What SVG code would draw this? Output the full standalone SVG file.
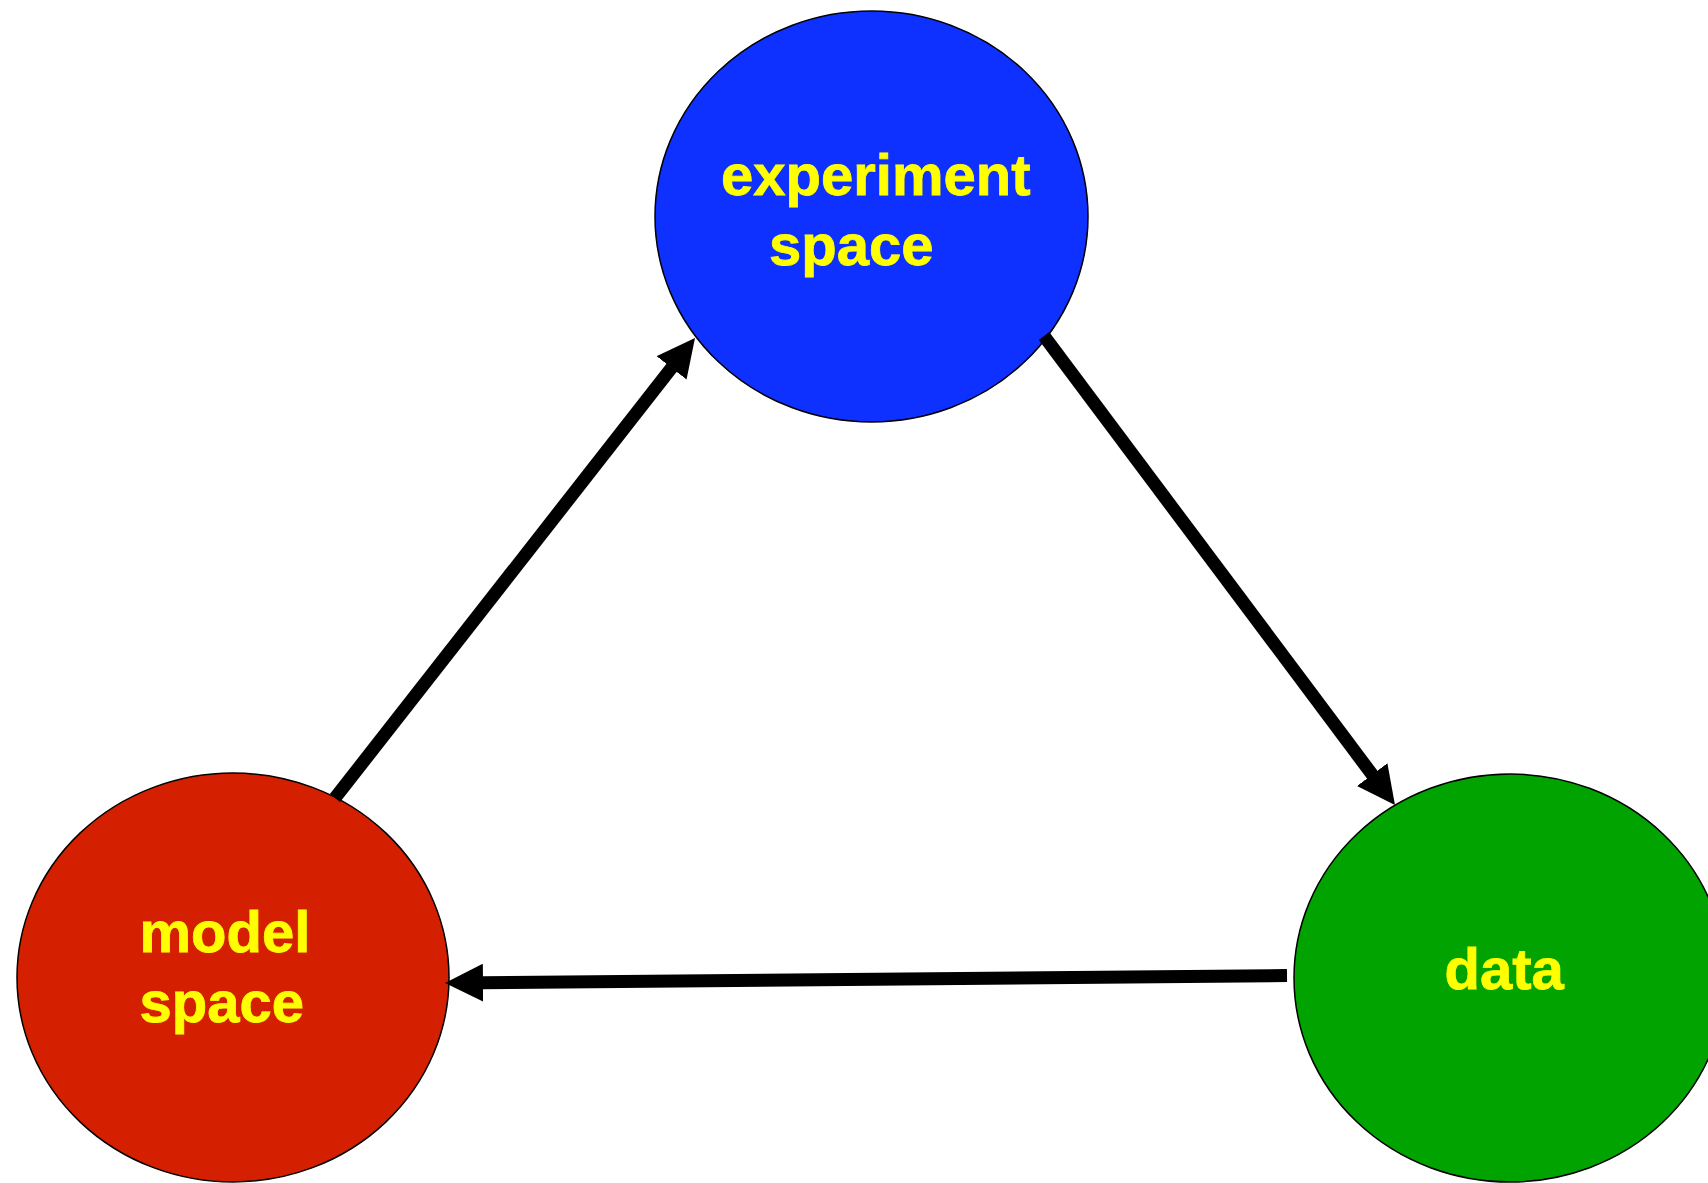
<svg xmlns="http://www.w3.org/2000/svg" width="1708" height="1183" viewBox="0 0 1708 1183">
<style>
.node ellipse{stroke:#000;stroke-width:1.5}
.lbl{font-family:"Liberation Sans",Arial,sans-serif;font-weight:bold;font-size:58px;fill:#FFFF00;stroke:#FFFF00;stroke-width:0.8}
.conn{stroke:#000;stroke-width:13;fill:none;marker-end:url(#ah)}
</style>
<defs>
<marker id="ah" markerUnits="userSpaceOnUse" viewBox="0 0 38 38" refX="1" refY="19" markerWidth="38" markerHeight="38" orient="auto">
<path d="M0,0 L38,19 L0,38 Z" fill="#000"/>
</marker>
</defs>
<rect width="1708" height="1183" fill="#fff"/>
<g id="experiment-space" class="node">
<ellipse cx="871.5" cy="216.5" rx="216.5" ry="205.5" fill="#0F31FF"/>
<text class="lbl" x="721" y="195">experiment</text>
<text class="lbl" x="769" y="265">space</text>
</g>
<g id="model-space" class="node">
<ellipse cx="233" cy="977.5" rx="216" ry="204.5" fill="#D42000"/>
<text class="lbl" x="139.5" y="952">model</text>
<text class="lbl" x="139.5" y="1022">space</text>
</g>
<g id="data" class="node">
<ellipse cx="1510" cy="978" rx="216" ry="204" fill="#00A300"/>
<text class="lbl" x="1444.5" y="989">data</text>
</g>
<g id="connectors">
<line class="conn" x1="335" y1="798" x2="672.2" y2="367.1"/>
<line class="conn" x1="1044" y1="336" x2="1372.8" y2="775.4"/>
<line class="conn" x1="1287" y1="975.5" x2="482" y2="982.7"/>
</g>
</svg>
